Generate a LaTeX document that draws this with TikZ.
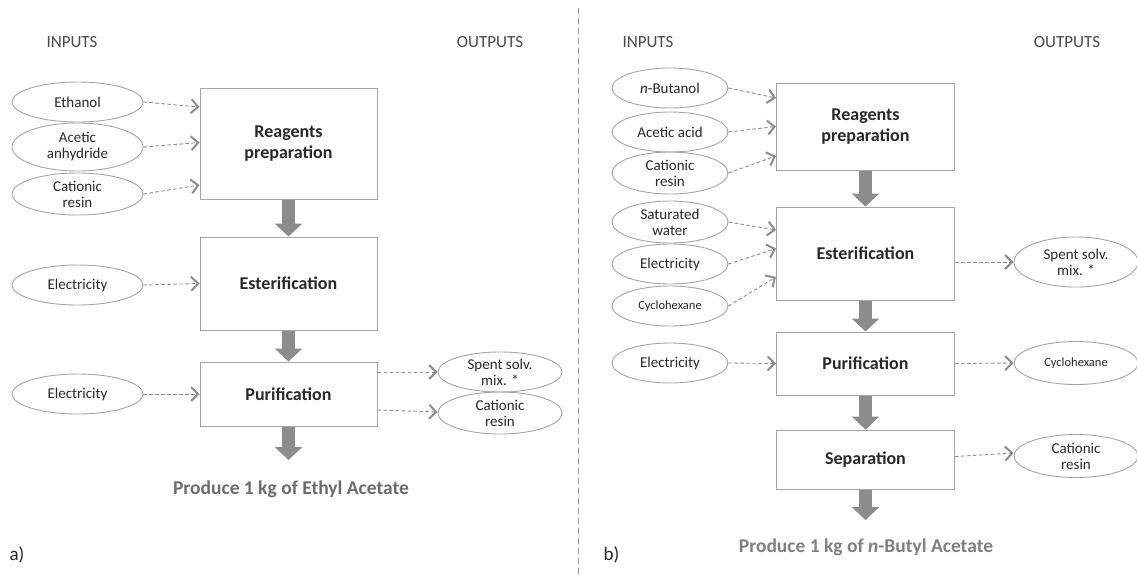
\documentclass[tikz,border=0pt]{standalone}
\usepackage{fontspec}
\setmainfont{Carlito}
\usetikzlibrary{arrows.meta,shapes.geometric}
\definecolor{flow}{RGB}{140,140,140}
\definecolor{edge}{RGB}{165,165,165}
\definecolor{txt}{RGB}{40,40,40}
\begin{document}
\begin{tikzpicture}[x=1pt,y=-1pt,
  inel/.style={ellipse,draw=edge,line width=0.9pt,minimum height=40pt,inner sep=0pt,align=center,font=\fontsize{15}{16}\selectfont,text=txt},
  lel/.style={inel,minimum width=131pt},
  rel/.style={inel,minimum width=116pt},
  oel/.style={inel,minimum width=124pt},
  proc/.style={draw=edge,line width=1pt,fill=white,align=center,font=\fontsize{18}{21}\selectfont\bfseries,text=txt,inner sep=0pt},
  thick/.style={draw=flow,line width=13pt,-{Triangle[width=27pt,length=13pt]}},
  da/.style={draw=flow,line width=0.9pt,dash pattern=on 3.5pt off 2.5pt,-{Straight Barb[length=7pt,width=14pt,line width=2pt]}},
  hdr/.style={font=\fontsize{17}{19}\selectfont,text=txt!85},
  prod/.style={font=\fontsize{19.5}{22}\selectfont\bfseries},
  small/.style={font=\fontsize{12.5}{14}\selectfont}
]
\useasboundingbox (0,0) rectangle (1137,574);
\fill[white] (0,0) rectangle (1137,574);

% divider
\coordinate (dtop) at (578,8);
\coordinate (dbot) at (578,574);
\draw[gray!80,line width=0.9pt,dash pattern=on 6pt off 4pt] (dtop) -- (dbot);

% headers
\node[hdr] (inL) at (72,42) {INPUTS};
\node[hdr] (outL) at (490,42) {OUTPUTS};
\node[hdr] (inR) at (648,42) {INPUTS};
\node[hdr] (outR) at (1067,42) {OUTPUTS};
\node[font=\fontsize{19}{21}\selectfont,text=txt,anchor=west] (la) at (6,555) {a)};
\node[font=\fontsize{19}{21}\selectfont,text=txt,anchor=west] (lb) at (600,555) {b)};

% ---------- left panel ----------
\node[proc,minimum width=177pt,minimum height=111pt] (rp) at (288.5,143.5) {Reagents\\preparation};
\node[proc,minimum width=177pt,minimum height=93pt] (es) at (288.5,283.5) {Esterification};
\node[proc,minimum width=177pt,minimum height=64pt] (pu) at (288.5,394) {Purification};
\coordinate (endL) at (288.5,460);
\node[prod,text=gray!85!black] (pl) at (291,489) {Produce 1 kg of Ethyl Acetate};

\node[lel] (eth) at (77.5,102) {Ethanol};
\node[lel,minimum height=48pt] (aan) at (77.5,147) {Acetic\\anhydride};
\node[lel,minimum height=42pt] (cr1) at (77.5,194) {Cationic\\resin};
\node[lel] (el1) at (77.5,285) {Electricity};
\node[lel] (el2) at (77.5,394) {Electricity};

\node[oel] (sp1) at (500,372) {Spent solv.\\mix. *};
\node[oel,minimum height=42pt] (cro1) at (500,413) {Cationic\\resin};

\draw[da] (eth.east) -- ([yshift=36.5pt]rp.west);
\draw[da] (aan.east) -- ([yshift=1pt]rp.west);
\draw[da] (cr1.east) -- ([yshift=-41.5pt]rp.west);
\draw[da] (el1.east) -- (es.west);
\draw[da] (el2.east) -- (pu.west);
\draw[da] ([yshift=22pt]pu.east) -- (sp1.west);
\draw[da] ([yshift=-16pt]pu.east) -- ([yshift=1pt]cro1.west);

\draw[thick] (rp.south) -- (es.north);
\draw[thick] (es.south) -- (pu.north);
\draw[thick] (pu.south) -- (endL);

% ---------- right panel ----------
\node[proc,minimum width=178pt,minimum height=87pt] (rp2) at (865.5,126.5) {Reagents\\preparation};
\node[proc,minimum width=178pt,minimum height=93pt] (es2) at (865.5,253.5) {Esterification};
\node[proc,minimum width=178pt,minimum height=63pt] (pu2) at (865.5,363.5) {Purification};
\node[proc,minimum width=178pt,minimum height=59pt] (se2) at (865.5,459.5) {Separation};
\coordinate (endR) at (865.5,520);
\node[prod,text=gray] (pr) at (866,547) {Produce 1 kg of \textit{n}-Butyl Acetate};

\node[rel] (nb) at (670,88) {\textit{n}-Butanol};
\node[rel] (aa) at (670,132) {Acetic acid};
\node[rel,minimum height=42pt] (cr2) at (670,173) {Cationic\\resin};
\node[rel,minimum height=42pt] (sw) at (670,222) {Saturated\\water};
\node[rel] (el3) at (670,264) {Electricity};
\node[rel,small] (ch) at (670,306) {Cyclohexane};
\node[rel] (el4) at (670,363) {Electricity};

\node[oel,minimum height=50pt] (sp2) at (1076,262) {Spent solv.\\mix. *};
\node[oel,minimum height=43pt,small] (cho) at (1076,363) {Cyclohexane};
\node[oel,minimum height=43pt] (cro2) at (1076,456) {Cationic\\resin};

\draw[da] (nb.east) -- ([yshift=28.5pt]rp2.west);
\draw[da] (aa.east) -- ([yshift=0pt]rp2.west);
\draw[da] (cr2.east) -- ([yshift=-29.5pt]rp2.west);
\draw[da] (sw.east) -- ([yshift=23.5pt]es2.west);
\draw[da] (el3.east) -- ([yshift=5pt]es2.west);
\draw[da] (ch.east) -- ([yshift=-23.5pt]es2.west);
\draw[da] (el4.east) -- (pu2.west);
\draw[da] ([yshift=-8.5pt]es2.east) -- (sp2.west);
\draw[da] (pu2.east) -- (cho.west);
\draw[da] ([yshift=3pt]se2.east) -- ([yshift=3pt]cro2.west);

\draw[thick] (rp2.south) -- (es2.north);
\draw[thick] (es2.south) -- (pu2.north);
\draw[thick] (pu2.south) -- (se2.north);
\draw[thick] (se2.south) -- (endR);
\end{tikzpicture}
\end{document}
